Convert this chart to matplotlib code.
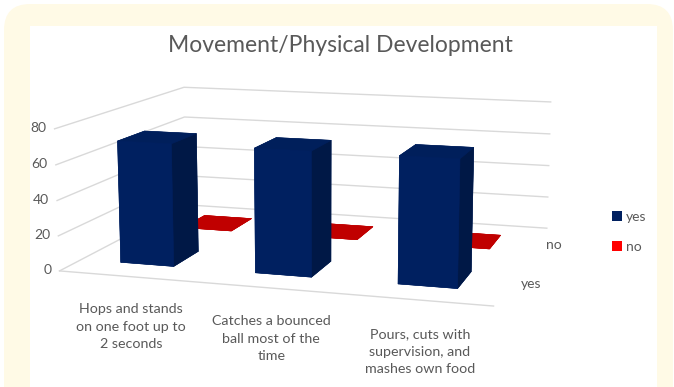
import numpy as np
import matplotlib.pyplot as plt
from matplotlib.patches import FancyBboxPatch, Rectangle, Patch
from matplotlib.transforms import IdentityTransform

categories = ["Hops and stands\non one foot up to\n2 seconds",
              "Catches a bounced\nball most of the\ntime",
              "Pours, cuts with\nsupervision, and\nmashes own food"]
series = ["yes", "no"]
yes_vals = [70, 70, 70]
no_vals = [0, 0, 0]
z_ticks = [0, 20, 40, 60, 80]

plt.rcParams['font.family'] = ['Lato', 'DejaVu Sans']
grey = '#595959'
grid_col = '#D9D9D9'

W, H = 674, 387
fig = plt.figure(figsize=(W / 100, H / 100), dpi=100)

# cream rounded frame with the white chart panel inside (kept under the axes)
px = IdentityTransform()
fig.patches.append(FancyBboxPatch((4, -40), 669, 423, boxstyle='round,pad=0,rounding_size=26',
                                  transform=px, fc='#FFFAE6', ec='none', figure=fig, zorder=-10))
fig.patches.append(Rectangle((30, 0), 627, 361, transform=px, fc='white', ec='none',
                             figure=fig, zorder=-9))

# 3d axes, placed so the box centre lands where wanted
S = 600
cx, cy = 318, H - 182
ax = fig.add_axes([(cx - 0.5135 * S) / W, (cy - 0.5135 * S) / H, S / W, S / H],
                  projection='3d', computed_zorder=False)
ax.set_proj_type('persp', focal_length=0.45)
ax.view_init(elev=11, azim=-73)
ax.set_box_aspect((1.28, 0.98, 0.42), zoom=0.874)
ax.set_axis_off()
ax.patch.set_visible(False)

x0, x1 = -0.5, len(categories) - 0.5
y0, y1 = -0.5, len(series) - 0.5
ax.set_xlim(x0, x1)
ax.set_ylim(y0, y1)
ax.set_zlim(0, 80)

# side wall + back wall gridlines, and the front floor edge
for z in z_ticks:
    ax.plot([x0, x0, x1], [y0, y1, y1], [z, z, z], color=grid_col, lw=1, zorder=1)
ax.plot([x0, x1], [y0, y0], [0, 0], color=grid_col, lw=1, zorder=1)

# bars: faces are -z, +z, -y, +y, -x, +x
dx, dy = 0.4, 0.4
xs = np.arange(len(categories))
bx = np.concatenate([xs, xs]) - dx / 2
by = np.repeat(np.arange(len(series)), len(categories)) - dy / 2
dz = np.array(yes_vals + no_vals, dtype=float)
navy = ['#002060', '#001F5B', '#002060', '#002060', '#002060', '#001846']
red = ['#C00000'] * 6
face_cols = navy * len(categories) + red * len(categories)
ax.bar3d(bx, by, np.zeros_like(bx), dx, dy, dz, color=face_cols, shade=False,
         edgecolor=face_cols, linewidth=0.4, zorder=2)

# value axis labels
for z in z_ticks:
    ax.text(x0 - 0.06, y0, z, str(z), ha='right', va='center', fontsize=10, color=grey, zorder=3)

# category labels along the front edge
for i, lab in enumerate(categories):
    ax.text(i + 0.03, y0, -15, lab, ha='center', va='top', fontsize=10.3, color=grey,
            linespacing=1.55, zorder=3)

# series labels on the right side
for j, s in enumerate(series):
    ax.text(x1 + 0.08, j, 0, s, ha='left', va='center', fontsize=10, color=grey, zorder=3)

fig.text(340 / W, 1 - 45 / H, "Movement/Physical Development", ha='center', va='center',
         fontsize=16.5, color=grey)

fig.legend(handles=[Patch(fc='#002060'), Patch(fc='#FF0000')], labels=series,
           loc='center left', bbox_to_anchor=(599 / W, 1 - 232 / H), frameon=False,
           handlelength=0.75, handleheight=0.75, handletextpad=0.3, labelspacing=1.3,
           fontsize=10, labelcolor=grey)

fig.savefig('out.png', dpi=100)
